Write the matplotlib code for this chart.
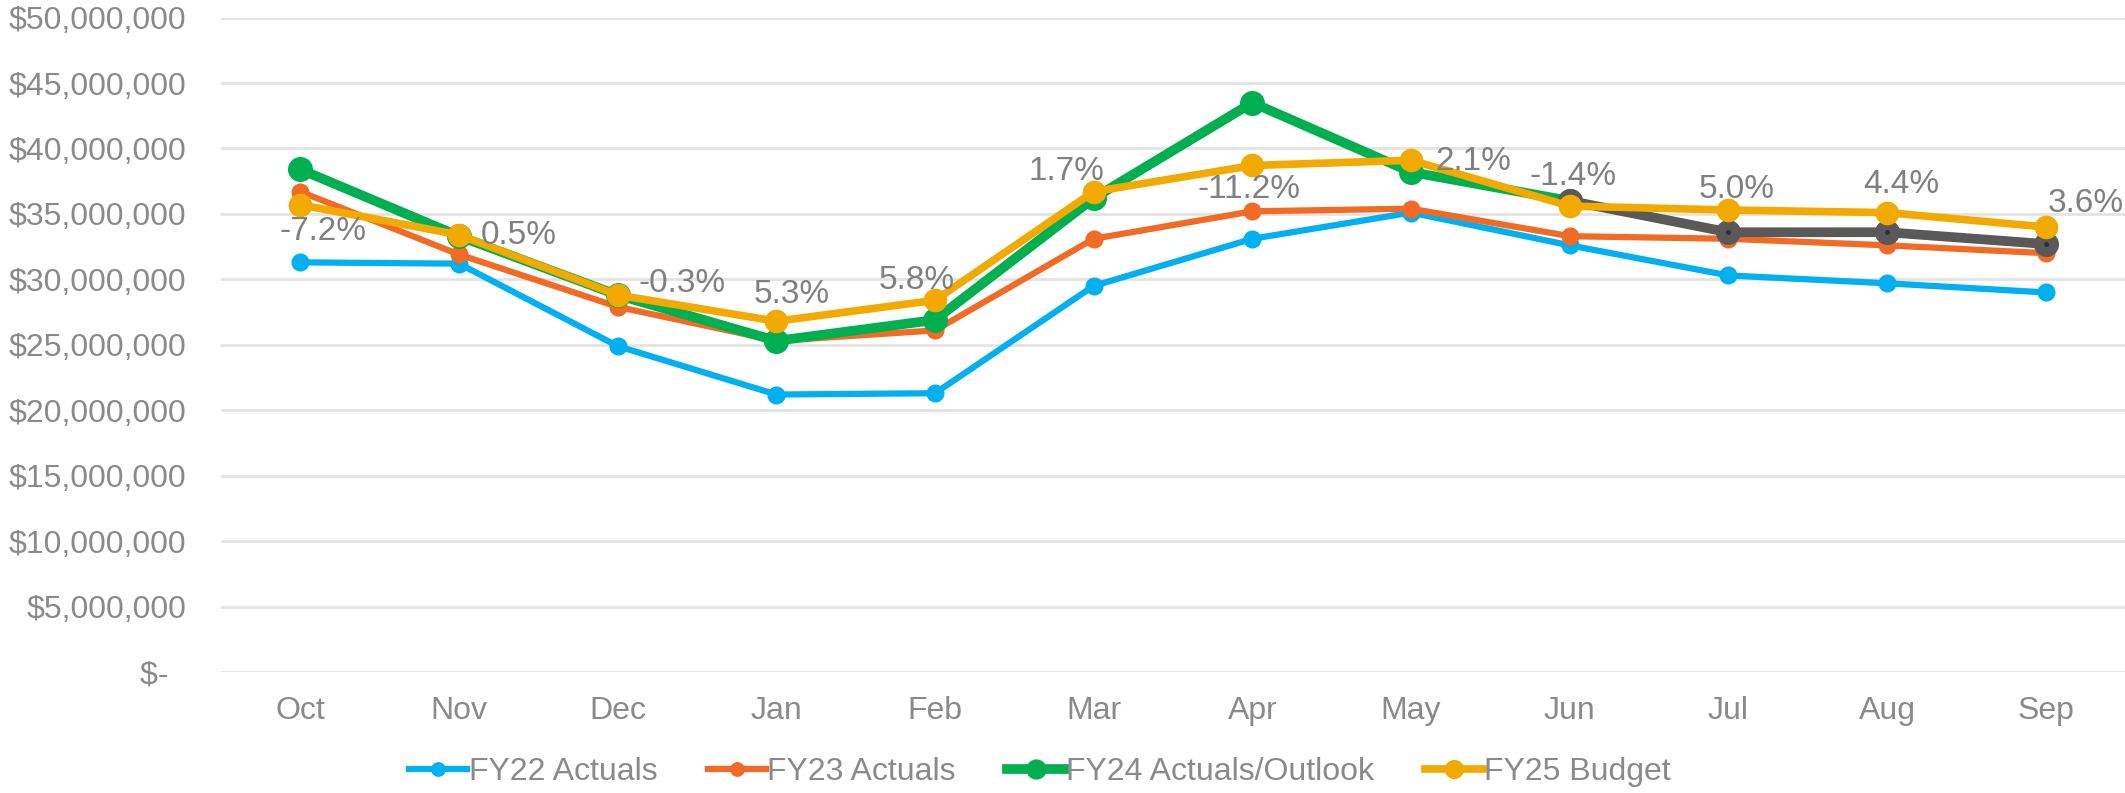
import matplotlib.pyplot as plt
from matplotlib.ticker import FuncFormatter

plt.rcParams['font.family'] = ['Liberation Sans', 'DejaVu Sans']

months = ['Oct', 'Nov', 'Dec', 'Jan', 'Feb', 'Mar', 'Apr', 'May', 'Jun', 'Jul', 'Aug', 'Sep']

# values in $ millions
fy22 = [31.3, 31.2, 24.9, 21.2, 21.3, 29.5, 33.1, 35.1, 32.6, 30.3, 29.7, 29.0]
fy23 = [36.7, 31.9, 27.9, 25.3, 26.1, 33.1, 35.2, 35.4, 33.3, 33.1, 32.6, 32.0]
fy24_actual = [38.4, 33.3, 28.8, 25.3, 26.9, 36.2, 43.5, 38.2, 36.0]   # Oct - Jun
fy24_outlook = [36.0, 33.6, 33.6, 32.7]                                 # Jun - Sep
fy25 = [35.7, 33.4, 28.8, 26.8, 28.4, 36.7, 38.7, 39.1, 35.6, 35.3, 35.1, 34.0]
pct_labels = ['-7.2%', '0.5%', '-0.3%', '5.3%', '5.8%', '1.7%', '-11.2%', '2.1%',
              '-1.4%', '5.0%', '4.4%', '3.6%']
# label offsets (pixels) from the FY25 point
label_off = [(23, -27), (60, -1), (64, 12), (15, 27), (-18, 20), (-27, 20),
             (-3, -24), (62, -1), (3, 30), (8, 20), (14, 28), (40, 24)]

c_blue = '#00B0F0'
c_orange = '#F26B24'
c_green = '#00B050'
c_gray = '#595959'
c_yellow = '#F2AA00'
c_text = '#8A8A8A'

fig = plt.figure(figsize=(21.25, 7.93), dpi=100)
ax = fig.add_axes([0.104, 0.1526, 0.896, 0.8252])

x = list(range(len(months)))
to_d = lambda v: [a * 1e6 for a in v]

ax.plot(x, to_d(fy22), color=c_blue, lw=4.5, marker='o', ms=12, label='FY22 Actuals', zorder=3)
ax.plot(x, to_d(fy23), color=c_orange, lw=4.5, marker='o', ms=12, label='FY23 Actuals', zorder=4)
ax.plot(x[:9], to_d(fy24_actual), color=c_green, lw=7, marker='o', ms=17, label='FY24 Actuals/Outlook', zorder=5)
ax.plot(x[8:], to_d(fy24_outlook), color=c_gray, lw=7, marker='o', ms=17, zorder=6)
ax.plot(x[9:], to_d(fy24_outlook[1:]), ls='none', marker='o', ms=2.5, color='#2b2b45', zorder=6.5)
ax.plot(x, to_d(fy25), color=c_yellow, lw=5.5, marker='o', ms=16, label='FY25 Budget', zorder=7)

for i, (lab, off) in enumerate(zip(pct_labels, label_off)):
    ax.annotate(lab, (x[i], fy25[i] * 1e6), xytext=off, textcoords='offset pixels',
                ha='center', va='center', fontsize=24, color='#808080', zorder=8)

ax.set_xlim(-0.5, 11.5)
ax.set_ylim(0, 50e6)
ax.set_yticks([i * 5e6 for i in range(11)])
ax.yaxis.set_major_formatter(FuncFormatter(lambda v, p: '$-  ' if v == 0 else '${:,.0f}'.format(v)))
ax.set_xticks(x)
ax.set_xticklabels(months)
ax.tick_params(axis='y', length=0, pad=25, labelsize=23, labelcolor=c_text)
ax.tick_params(axis='x', length=0, pad=17, labelsize=23, labelcolor=c_text)
ax.grid(axis='y', color='#E3E3E3', lw=2)
ax.set_axisbelow(True)
for s in ax.spines.values():
    s.set_visible(False)

leg = fig.legend(loc='center', bbox_to_anchor=(0.4895, 0.026), ncol=4, frameon=False,
                 fontsize=23, labelcolor=c_text, handlelength=1.8, handletextpad=0.05,
                 columnspacing=1.6, markerscale=0.8)

fig.savefig('out.png', dpi=100)
